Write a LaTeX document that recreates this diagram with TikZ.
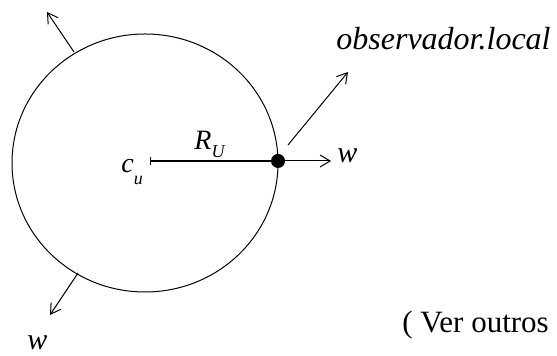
\documentclass[tikz,border=0pt]{standalone}
\usepackage{fontspec}
\setmainfont{Liberation Serif}[
  ItalicFont={Liberation Serif Italic},
  BoldFont={Liberation Serif Bold}]
\usetikzlibrary{arrows.meta}

\tikzset{
  vec/.style={-{Straight Barb[length=5pt,width=6pt]}, line width=0.5pt},
  lbl/.style={inner sep=0pt, anchor=base west},
  dot/.style={circle, fill=black, inner sep=0pt, minimum size=7pt}
}

\begin{document}
\begin{tikzpicture}[x=0.5pt, y=-0.5pt]
  \useasboundingbox (0,0) rectangle (557,356);

  % Sphere and centre
  \coordinate (cen) at (145,163);
  \draw[line width=0.5pt] (cen) circle [x radius=66.5pt, y radius=64.5pt];
  \coordinate (cu) at (150,161);
  \draw[line width=0.5pt] ([yshift=-2pt]cu) -- ([yshift=2pt]cu);
  \node[dot] (pt) at (278,161) {};

  % Radius and normal vectors
  \draw[line width=0.7pt] (cu) -- (pt);
  \coordinate (wr) at (331,161);
  \draw[vec] (pt) -- (wr);
  \coordinate (ul0) at (74,52);
  \coordinate (ul1) at (47,12);
  \draw[vec] (ul0) -- (ul1);
  \coordinate (ll0) at (78,273);
  \coordinate (ll1) at (50,315);
  \draw[vec] (ll0) -- (ll1);
  \coordinate (ob0) at (288,145);
  \coordinate (ob1) at (348,72);
  \draw[vec] (ob0) -- (ob1);

  % Labels
  \node[lbl, font=\fontsize{14}{16}\selectfont] (lblR) at (194,150) {\itshape R\raisebox{-0.55ex}{\small U}};
  \node[lbl, font=\fontsize{14}{16}\selectfont] (lblc) at (121,173) {\itshape c\raisebox{-0.9ex}{\small u}};
  \node[lbl, font=\fontsize{15}{18}\selectfont] (lblw1) at (337,163) {\itshape w};
  \node[lbl, font=\fontsize{15}{18}\selectfont] (lblw2) at (27,350) {\itshape w};
  \node[lbl, font=\fontsize{16}{18}\selectfont] (lblobs) at (336,50) {\itshape observador.local};
  \node[lbl, font=\fontsize{15.5}{18}\selectfont] (lblver) at (402,333) {( Ver outros};
\end{tikzpicture}
\end{document}
